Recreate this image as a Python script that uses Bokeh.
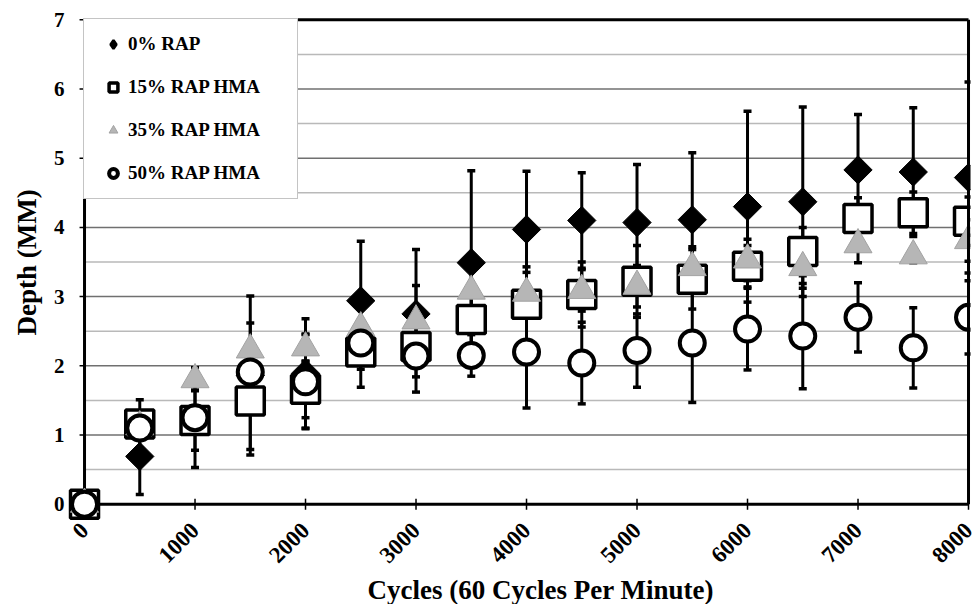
import math
from bokeh.plotting import figure
from bokeh.models import Range1d, FixedTicker, Legend, LegendItem, Title
from bokeh.embed import file_html
from bokeh.resources import INLINE

# ---- data ----
cycles = [0, 500, 1000, 1500, 2000, 2500, 3000, 3500, 4000, 4500, 5000, 5500, 6000, 6500, 7000, 7500, 8000]

rap0 = [0, 0.69, 1.21, 1.86, 1.89, 2.94, 2.75, 3.49, 3.97, 4.10, 4.07, 4.11, 4.30, 4.37, 4.83, 4.80, 4.72]
rap0_err = [0, 0.55, 0.43, 1.15, 0.79, 0.86, 0.41, 1.33, 0.84, 0.69, 0.84, 0.97, 1.38, 1.37, 0.80, 0.93, 1.38]

rap15 = [0, 1.16, 1.21, 1.49, 1.66, 2.20, 2.28, 2.67, 2.89, 3.03, 3.22, 3.25, 3.44, 3.65, 4.13, 4.21, 4.09]
rap15_err = [0, 0.35, 0.20, 0.70, 0.41, 0.25, 0.30, 0.40, 0.54, 0.47, 0.52, 0.43, 0.30, 0.35, 0.30, 0.30, 0.35]

rap35 = [0, 1.12, 1.80, 2.23, 2.26, 2.55, 2.65, 3.08, 3.05, 3.09, 3.15, 3.42, 3.53, 3.42, 3.75, 3.59, 3.81]
rap35_err = [0, 0.10, 0.15, 0.39, 0.20, 0.30, 1.03, 0.30, 0.30, 0.30, 0.30, 0.30, 0.30, 0.30, 0.26, 0.10, 0.30]

rap50 = [0, 1.10, 1.25, 1.91, 1.77, 2.33, 2.14, 2.15, 2.20, 2.04, 2.22, 2.33, 2.53, 2.43, 2.70, 2.26, 2.70]
rap50_err = [0, 0.15, 0.72, 0.25, 0.68, 0.64, 0.30, 0.30, 0.81, 0.59, 0.53, 0.86, 0.59, 0.76, 0.50, 0.58, 0.53]

series_labels = ["0% RAP", "15% RAP HMA", "35% RAP HMA", "50% RAP HMA"]

x_ticks = [0, 1000, 2000, 3000, 4000, 5000, 6000, 7000, 8000]
y_ticks = [0, 1, 2, 3, 4, 5, 6, 7]
y_minor = [0.5, 1.5, 2.5, 3.5, 4.5, 5.5, 6.5]

X_MIN, X_MAX = 0, 8000
Y_MIN, Y_MAX = 0, 7

FONT = "Liberation Serif"

p = figure(frame_width=903, frame_height=504,
           x_range=Range1d(-154, 8018), y_range=Range1d(-0.25, 7.033),
           output_backend="svg", toolbar_location=None,
           min_border_left=65, min_border_right=8, min_border_top=17, min_border_bottom=0)
p.outline_line_color = None
p.background_fill_color = "white"
p.border_fill_color = "white"
p.xgrid.visible = False
p.ygrid.visible = False

for ax in (p.xaxis, p.yaxis):
    ax.axis_line_color = None
    ax.major_tick_line_color = None
    ax.minor_tick_line_color = None
    ax.major_tick_in = 0
    ax.major_tick_out = 0
    ax.minor_tick_in = 0
    ax.minor_tick_out = 0
    ax.major_label_text_font = FONT
    ax.major_label_text_font_style = "bold"
    ax.major_label_text_color = "black"

p.xaxis.ticker = FixedTicker(ticks=x_ticks)
p.yaxis.ticker = FixedTicker(ticks=y_ticks)
p.xaxis.major_label_orientation = math.pi / 4
p.xaxis.major_label_standoff = 5
p.xaxis.major_label_text_font_size = "23px"
p.yaxis.major_label_text_font_size = "21px"
p.yaxis.major_label_standoff = 3

xlabel = Title(text="Cycles (60 Cycles Per Minute)", align="left", offset=300,
               text_font=FONT, text_font_style="bold", text_font_size="27px",
               text_color="black", standoff=0)
p.add_layout(xlabel, "below")

ylabel = Title(text="Depth (MM)", align="left", offset=186,
               text_font=FONT, text_font_style="bold", text_font_size="27px",
               text_color="black", standoff=18)
p.add_layout(ylabel, "left")

# ---- gridlines ----
p.segment(x0=[X_MIN] * len(y_minor), x1=[X_MAX] * len(y_minor), y0=y_minor, y1=y_minor,
          line_color="#b9b9b9", line_width=1.5)
inner = y_ticks[1:-1]
p.segment(x0=[X_MIN] * len(inner), x1=[X_MAX] * len(inner), y0=inner, y1=inner,
          line_color="#707070", line_width=1.5)

# ---- tick marks ----
p.segment(x0=[X_MIN - 45] * len(y_ticks), x1=[X_MIN] * len(y_ticks), y0=y_ticks, y1=y_ticks,
          line_color="black", line_width=1.5)
p.segment(x0=x_ticks, x1=x_ticks, y0=[Y_MIN - 0.08] * len(x_ticks), y1=[Y_MIN + 0.08] * len(x_ticks),
          line_color="black", line_width=1.5)

# ---- error bars ----
for vals, errs in ((rap0, rap0_err), (rap15, rap15_err), (rap35, rap35_err), (rap50, rap50_err)):
    lo = [v - e for v, e in zip(vals, errs)]
    hi = [v + e for v, e in zip(vals, errs)]
    p.segment(x0=cycles, x1=cycles, y0=lo, y1=hi, line_color="black", line_width=3)
    p.scatter(cycles, lo, marker="dash", size=8, line_color="black", line_width=3.5)
    p.scatter(cycles, hi, marker="dash", size=8, line_color="black", line_width=3.5)

# ---- frame lines (left, bottom, top) ----
p.segment(x0=[X_MIN, X_MIN, X_MIN], x1=[X_MIN, X_MAX, X_MAX],
          y0=[Y_MIN, Y_MIN, Y_MAX], y1=[Y_MAX, Y_MIN, Y_MAX],
          line_color="black", line_width=3)

# ---- markers ----
r0 = p.scatter(cycles, rap0, marker="square", angle=math.pi / 4, size=20,
               fill_color="black", line_color="black", line_width=1)
r15 = p.scatter(cycles, rap15, marker="square", size=28,
                fill_color="white", line_color="black", line_width=3.5)
r35 = p.scatter(cycles, rap35, marker="triangle", size=28,
                fill_color="#b6b6b6", line_color="#a2a2a2", line_width=1)
r50 = p.scatter(cycles, rap50, marker="circle", size=25,
                fill_color="white", line_color="black", line_width=4)

# legend sample for the diamond series (a single undefined point, never drawn)
r0_key = p.scatter(x=[float("nan")], y=[float("nan")], marker="diamond", size=20,
                   fill_color="black", line_color="black", line_width=2.5)

# right frame line over the last markers
p.segment(x0=[X_MAX], x1=[X_MAX], y0=[Y_MIN], y1=[Y_MAX], line_color="black", line_width=3)

legend = Legend(
    items=[LegendItem(label=lab, renderers=[r]) for lab, r in zip(series_labels, [r0_key, r15, r35, r50])],
    location=(16, 322), margin=0, padding=14, spacing=21,
    label_height=22, glyph_height=22, glyph_width=30, label_standoff=0, label_width=155,
    border_line_color="#8a8a8a", border_line_width=1,
    background_fill_color="white", background_fill_alpha=1.0,
    label_text_font=FONT, label_text_font_style="bold", label_text_font_size="19px",
    label_text_color="black",
)
p.add_layout(legend)

open("out.html", "w").write(file_html(p, INLINE))
